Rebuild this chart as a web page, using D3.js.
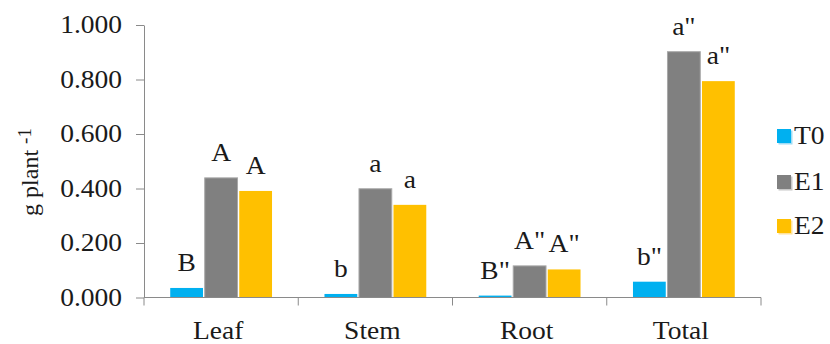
<!DOCTYPE html>
<html>
<head>
<meta charset="utf-8">
<script src="https://cdn.jsdelivr.net/npm/d3@7"></script>
</head>
<body style="margin:0;background:#fff">
<svg id="chart" width="830" height="344" style="display:block"></svg>
<script>
// Dry mass per organ for three treatments
const categories = ["Leaf", "Stem", "Root", "Total"];
const seriesNames = ["T0", "E1", "E2"];
const seriesColors = ["#00B0F0", "#808080", "#FFC000"];
const legendShade = ["#9fdcf5", "#c8c8c8", "#ffe29a"];
const t0Values = [0.035, 0.013, 0.007, 0.058];
const e1Values = [0.439, 0.399, 0.116, 0.902];
const e2Values = [0.391, 0.340, 0.103, 0.794];
// Significance letters shown above each bar
const t0Letters = ["B", "b", "B\"", "b\""];
const e1Letters = ["A", "a", "A\"", "a\""];
const e2Letters = ["A", "a", "A\"", "a\""];
const yTicks = [0, 0.2, 0.4, 0.6, 0.8, 1.0];

const series = [
  { name: seriesNames[0], color: seriesColors[0], shade: legendShade[0], values: t0Values, letters: t0Letters },
  { name: seriesNames[1], color: seriesColors[1], shade: legendShade[1], values: e1Values, letters: e1Letters },
  { name: seriesNames[2], color: seriesColors[2], shade: legendShade[2], values: e2Values, letters: e2Letters }
];

const FONT = 25;
const SX = 1.1;               // text is drawn slightly wide
const axisColor = "#8a8a8a";
const ink = "#1a1a1a";

// Places a serif label inside its own positioned group
function label(parent, tx, ty, str, size, anchor, extra) {
  const g = parent.append("g").attr("transform", `translate(${tx},${ty}) ${extra || ""}`);
  return g.append("text")
    .style("font-family", '"Liberation Serif"')
    .attr("font-size", size)
    .attr("fill", ink)
    .attr("text-anchor", anchor)
    .text(str);
}

const svg = d3.select("#chart");
svg.append("rect").attr("width", 830).attr("height", 344).attr("fill", "#fff");

const x0 = d3.scaleBand().domain(categories).range([144, 761])
  .paddingInner(0.34).paddingOuter(0.17);
const x1 = d3.scaleBand().domain(seriesNames).range([0, x0.bandwidth()]).paddingInner(0.05);
const y = d3.scaleLinear().domain([0, 1]).range([297.5, 25]);

// y axis: line and ticks from d3, labels drawn as serif text
const yAxis = svg.append("g").attr("transform", "translate(144,0)")
  .call(d3.axisLeft(y).tickValues(yTicks).tickFormat("")
    .tickSize(8).tickSizeOuter(0));
yAxis.select(".domain").attr("stroke", axisColor);
yAxis.selectAll(".tick line").attr("stroke", axisColor);
yAxis.selectAll(".tick text").remove();
const fmt = d3.format(".3f");
const yLabels = svg.append("g");
yTicks.forEach(v => label(yLabels, 122, y(v) + 8, fmt(v), FONT, "end", `scale(${SX},1)`));

// bars
const plot = svg.append("g");
categories.forEach((c, i) => {
  const g = plot.append("g").attr("transform", `translate(${x0(c)},0)`);
  series.forEach(s => {
    g.append("rect")
      .attr("x", x1(s.name))
      .attr("width", x1.bandwidth())
      .attr("y", y(s.values[i]))
      .attr("height", y(0) - y(s.values[i]))
      .attr("fill", s.color)
      .attr("stroke", s.name === "E1" ? "#a8a8a8" : "none")
      .attr("stroke-width", 1);
    label(g, x1(s.name) + x1.bandwidth() / 2, y(s.values[i]) - 17, s.letters[i], FONT, "middle", `scale(${SX},1)`);
  });
});

// x axis
const xAxis = svg.append("g").attr("transform", `translate(0,${y(0)})`);
xAxis.append("line").attr("x1", 144).attr("x2", 761).attr("stroke", axisColor);
const step = x0.step();
d3.range(categories.length + 1).forEach(i => {
  const xv = 144 + i * step;
  xAxis.append("line").attr("x1", xv).attr("x2", xv).attr("y1", 0).attr("y2", 8)
    .attr("stroke", axisColor);
});
categories.forEach(c => label(xAxis, x0(c) + x0.bandwidth() / 2 - 3, 41, c, FONT, "middle", `scale(${SX},1)`));

// y axis title
const title = label(svg, 38, 172, "g plant ", 24, "middle", "rotate(-90)");
title.append("tspan").attr("dy", -7).attr("font-size", 19).text("-1");

// legend
const legendY = [136, 182, 226];
series.forEach((s, i) => {
  const g = svg.append("g").attr("transform", `translate(777,${legendY[i]})`);
  g.append("rect").attr("x", 1.5).attr("y", -5.5).attr("width", 14).attr("height", 14).attr("fill", s.shade);
  g.append("rect").attr("x", 0).attr("y", -7).attr("width", 14).attr("height", 14).attr("fill", s.color);
  label(g, 17, 8, s.name, FONT, "start", `scale(${SX},1)`);
});
</script>
</body>
</html>
